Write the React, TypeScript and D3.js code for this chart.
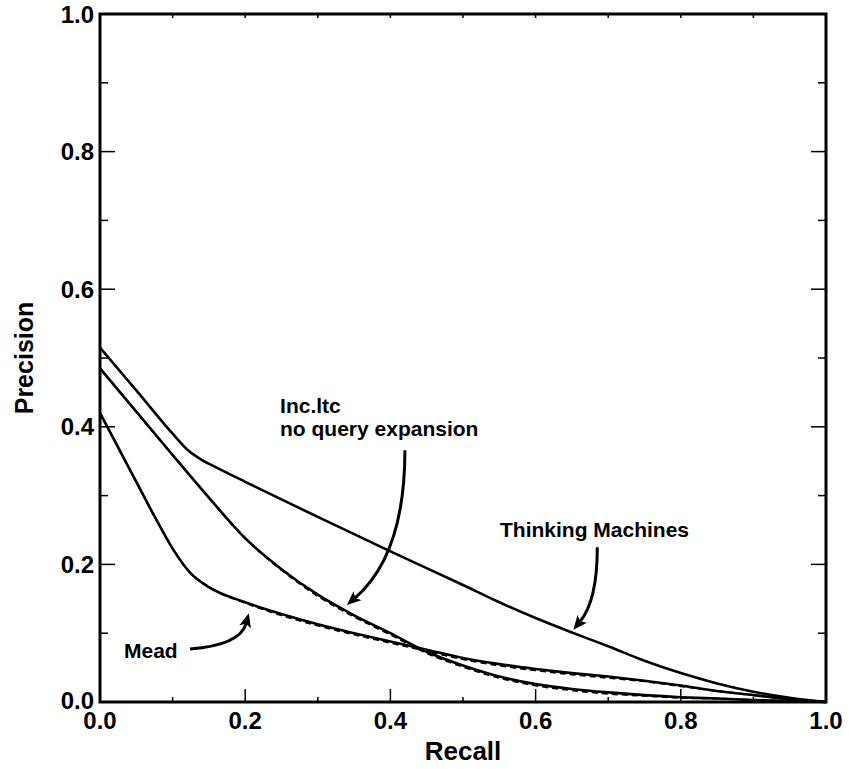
import React from "react";
import * as d3 from "d3";

const recallTM = [0, 0.05, 0.1, 0.12, 0.14, 0.16, 0.2, 0.3, 0.4, 0.5, 0.55, 0.6, 0.65, 0.7, 0.75, 0.8, 0.85, 0.9, 0.95, 1.0];
const precTM = [0.515, 0.453, 0.39, 0.367, 0.352, 0.341, 0.32, 0.269, 0.219, 0.17, 0.145, 0.122, 0.101, 0.081, 0.06, 0.042, 0.027, 0.015, 0.006, 0.0];

const recallInc = [0, 0.05, 0.1, 0.15, 0.2, 0.25, 0.3, 0.35, 0.4, 0.45, 0.5, 0.55, 0.6, 0.65, 0.7, 0.75, 0.8, 0.85, 0.9, 1.0];
const precInc = [0.485, 0.422, 0.359, 0.297, 0.238, 0.193, 0.156, 0.126, 0.1, 0.073, 0.053, 0.037, 0.026, 0.019, 0.014, 0.01, 0.007, 0.005, 0.003, 0.0];
const precIncDashed = [0.485, 0.422, 0.359, 0.297, 0.238, 0.192, 0.154, 0.124, 0.098, 0.071, 0.051, 0.035, 0.024, 0.017, 0.012, 0.009, 0.006, 0.005, 0.003, 0.0];

const recallMead = [0, 0.025, 0.05, 0.075, 0.1, 0.125, 0.15, 0.2, 0.25, 0.3, 0.35, 0.4, 0.45, 0.5, 0.55, 0.6, 0.65, 0.7, 0.75, 0.8, 0.85, 0.9, 0.95, 1.0];
const precMead = [0.42, 0.37, 0.32, 0.27, 0.223, 0.187, 0.167, 0.145, 0.128, 0.113, 0.1, 0.088, 0.076, 0.064, 0.055, 0.048, 0.042, 0.037, 0.031, 0.024, 0.016, 0.01, 0.004, 0.0];
const precMeadDashed = [0.42, 0.37, 0.32, 0.27, 0.223, 0.187, 0.167, 0.144, 0.126, 0.111, 0.098, 0.086, 0.074, 0.062, 0.053, 0.046, 0.04, 0.035, 0.03, 0.023, 0.016, 0.01, 0.004, 0.0];

const xTicks = [0, 0.2, 0.4, 0.6, 0.8, 1.0];
const yTicks = [0, 0.2, 0.4, 0.6, 0.8, 1.0];
const minorTicks = [0.1, 0.3, 0.5, 0.7, 0.9];

type Ann = { label: string[]; text: [number, number]; start: [number, number]; ctrl: [number, number]; end: [number, number] };
const annotations: Ann[] = [
  { label: ["Mead"], text: [0.033, 0.064], start: [0.124, 0.077], ctrl: [0.193, 0.083], end: [0.205, 0.129] },
  { label: ["Inc.ltc", "no query expansion"], text: [0.248, 0.42], start: [0.42, 0.366], ctrl: [0.42, 0.214], end: [0.34, 0.141] },
  { label: ["Thinking Machines"], text: [0.551, 0.24], start: [0.685, 0.225], ctrl: [0.685, 0.148], end: [0.652, 0.105] },
];

const W = 849, H = 769;
const L = 100, R = 826, T = 14, B = 702;
const FONT = "'Liberation Sans', Arial, Helvetica, sans-serif";

export default function App() {
  const x = d3.scaleLinear().domain([0, 1]).range([L, R]);
  const y = d3.scaleLinear().domain([0, 1]).range([B, T]);
  const line = d3.line<[number, number]>().x(d => x(d[0])).y(d => y(d[1])).curve(d3.curveMonotoneX);
  const zip = (xs: number[], ys: number[]) => xs.map((v, i) => [v, ys[i]] as [number, number]);

  const series = [
    { d: zip(recallMead, precMeadDashed), dash: "6,4", w: 2 },
    { d: zip(recallInc, precIncDashed), dash: "6,4", w: 2 },
    { d: zip(recallTM, precTM), dash: null, w: 2.6 },
    { d: zip(recallInc, precInc), dash: null, w: 2.6 },
    { d: zip(recallMead, precMead), dash: null, w: 2.6 },
  ];

  return (
    <svg width={W} height={H} style={{ position: "absolute", left: 0, top: 0, background: "#fff" }}>
      {xTicks.map(t => (
        <g key={"xt" + t}>
          <line x1={x(t)} x2={x(t)} y1={B} y2={B - 13} stroke="#000" strokeWidth={1.5} />
          <line x1={x(t)} x2={x(t)} y1={T} y2={T + 4} stroke="#000" strokeWidth={1.5} />
          <text x={x(t)} y={729} textAnchor="middle" fontFamily={FONT} fontWeight="bold" fontSize={24}>{t.toFixed(1)}</text>
        </g>
      ))}
      {minorTicks.map(t => (
        <g key={"mt" + t}>
          <line x1={x(t)} x2={x(t)} y1={B} y2={B - 5} stroke="#000" strokeWidth={1.5} />
          <line x1={x(t)} x2={x(t)} y1={T} y2={T + 4} stroke="#000" strokeWidth={1.5} />
          <line x1={L} x2={L + 8} y1={y(t)} y2={y(t)} stroke="#000" strokeWidth={1.5} />
          <line x1={R} x2={R - 8} y1={y(t)} y2={y(t)} stroke="#000" strokeWidth={1.5} />
        </g>
      ))}
      {yTicks.map(t => (
        <g key={"yt" + t}>
          <line x1={L} x2={L + 15} y1={y(t)} y2={y(t)} stroke="#000" strokeWidth={1.5} />
          <line x1={R} x2={R - 15} y1={y(t)} y2={y(t)} stroke="#000" strokeWidth={1.5} />
          <text x={94} y={y(t) - (t === 0 ? 2 : 0)} dy="0.36em" textAnchor="end" fontFamily={FONT} fontWeight="bold" fontSize={24}>{t.toFixed(1)}</text>
        </g>
      ))}
      {series.map((s, i) => (
        <path key={i} d={line(s.d) || ""} fill="none" stroke="#000" strokeWidth={s.w}
          strokeDasharray={s.dash || undefined} strokeLinejoin="round" />
      ))}
      <rect x={L} y={T} width={R - L} height={B - T} fill="none" stroke="#000" strokeWidth={3} />
      {annotations.map((a, i) => {
        const sx = x(a.start[0]), sy = y(a.start[1]);
        const cx = x(a.ctrl[0]), cy = y(a.ctrl[1]);
        const ex = x(a.end[0]), ey = y(a.end[1]);
        const ang = Math.atan2(ey - cy, ex - cx);
        const hl = 14, hw = 6;
        const bx = ex - hl * Math.cos(ang), by = ey - hl * Math.sin(ang);
        const px = -Math.sin(ang), py = Math.cos(ang);
        const nx = bx + 3 * Math.cos(ang), ny = by + 3 * Math.sin(ang);
        const head = `M${ex},${ey}L${bx + hw * px},${by + hw * py}L${nx},${ny}L${bx - hw * px},${by - hw * py}Z`;
        return (
          <g key={"a" + i}>
            <path d={`M${sx},${sy}Q${cx},${cy} ${nx},${ny}`} fill="none" stroke="#000" strokeWidth={3} />
            <path d={head} fill="#000" />
            {a.label.map((l, j) => (
              <text key={j} x={x(a.text[0])} y={y(a.text[1]) + j * 23} fontFamily={FONT} fontWeight="bold" fontSize={21}>{l}</text>
            ))}
          </g>
        );
      })}
      <text x={463} y={760} textAnchor="middle" fontFamily={FONT} fontWeight="bold" fontSize={26}>Recall</text>
      <text transform={`translate(33,${(T + B) / 2}) rotate(-90)`} textAnchor="middle" fontFamily={FONT} fontWeight="bold" fontSize={25}>Precision</text>
    </svg>
  );
}
